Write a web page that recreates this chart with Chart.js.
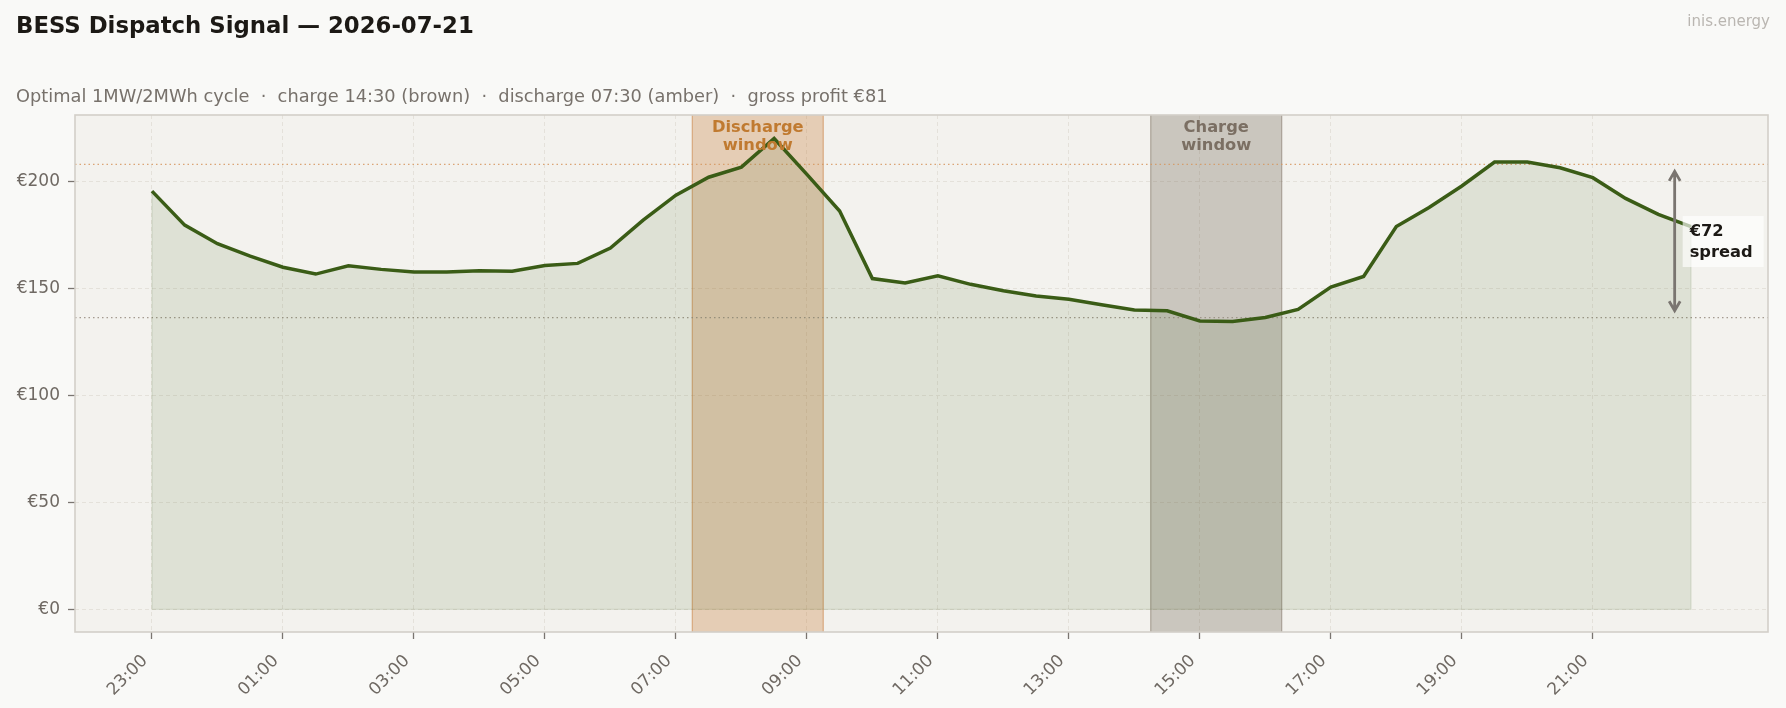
<!DOCTYPE html>
<html>
<head>
<meta charset="utf-8">
<script src="https://cdn.jsdelivr.net/npm/chart.js@4.4.0/dist/chart.umd.min.js"></script>
<style>
  html, body { margin: 0; padding: 0; background: #f9f9f7; }
  #wrap { position: relative; width: 1786px; height: 708px; font-family: "DejaVu Sans", sans-serif; }
  #wrap div { position: absolute; line-height: 1; white-space: pre; }
  #title { left: 16px; top: 13.7px; font-size: 22.8px; font-weight: bold; color: #1c1915; }
  #sub { left: 16px; top: 86.6px; font-size: 17.8px; color: #77716b; }
  #brand { right: 16px; top: 14px; font-size: 15px; color: #bab6b1; }
  canvas { position: absolute; left: 0; top: 0; }
</style>
</head>
<body>
<div id="wrap">
  <canvas id="chart" width="1786" height="708"></canvas>
  <div id="title">BESS Dispatch Signal — 2026-07-21</div>
  <div id="sub">Optimal 1MW/2MWh cycle  ·  charge 14:30 (brown)  ·  discharge 07:30 (amber)  ·  gross profit €81</div>
  <div id="brand">inis.energy</div>
</div>
<script>
// half-hourly day-ahead prices, 23:00 -> 22:30
const times = [
  '23:00','23:30','00:00','00:30','01:00','01:30','02:00','02:30',
  '03:00','03:30','04:00','04:30','05:00','05:30','06:00','06:30',
  '07:00','07:30','08:00','08:30','09:00','09:30','10:00','10:30',
  '11:00','11:30','12:00','12:30','13:00','13:30','14:00','14:30',
  '15:00','15:30','16:00','16:30','17:00','17:30','18:00','18:30',
  '19:00','19:30','20:00','20:30','21:00','21:30','22:00','22:30'
];
const prices = [
  195.6, 179.7, 171.0, 165.2, 160.0, 156.8, 160.7, 159.0,
  157.8, 157.8, 158.3, 158.1, 160.8, 161.8, 169.0, 182.0,
  193.7, 202.1, 206.8, 220.2, 203.4, 186.3, 154.7, 152.6,
  156.0, 152.0, 149.0, 146.5, 145.0, 142.5, 140.0, 139.6,
  134.9, 134.6, 136.5, 140.3, 150.7, 155.7, 179.0, 187.9,
  198.0, 209.2, 209.2, 206.5, 201.9, 192.2, 184.7, 179.0
];
const dischargeSlots = ['07:30', '08:00', '08:30', '09:00'];
const chargeSlots = ['14:30', '15:00', '15:30', '16:00'];
const xTickLabels = ['23:00','01:00','03:00','05:00','07:00','09:00','11:00','13:00','15:00','17:00','19:00','21:00'];
const yTickValues = [0, 50, 100, 150, 200];

const LINE = '#3a5c16';
const TXT = '#6f6963';
const FONT = '"DejaVu Sans", sans-serif';

// hours since 23:00
function toOffset(t) {
  const [h, m] = t.split(':').map(Number);
  return ((h - 23 + 24) % 24) + m / 60;
}
function toTime(v) {
  const h = (Math.round(v) + 23) % 24;
  return String(h).padStart(2, '0') + ':00';
}
function avgOf(slots) {
  const vals = slots.map(s => prices[times.indexOf(s)]);
  return vals.reduce((a, b) => a + b, 0) / vals.length;
}

const points = times.map((t, i) => ({ x: toOffset(t), y: prices[i] }));
const dAvg = avgOf(dischargeSlots);
const cAvg = avgOf(chargeSlots);
const spreadText = ['€' + Math.round(dAvg - cAvg), 'spread'];

function windowRange(slots) {
  const offs = slots.map(toOffset);
  return [Math.min(...offs) - 0.25, Math.max(...offs) + 0.25];
}

const decor = {
  id: 'decor',
  beforeDraw(chart) {
    const { ctx, chartArea: a } = chart;
    ctx.save();
    ctx.fillStyle = '#f3f2ee';
    ctx.fillRect(a.left, a.top, a.width, a.height);
    ctx.restore();
  },
  beforeDatasetsDraw(chart) {
    const { ctx, chartArea: a, scales: { x, y } } = chart;
    ctx.save();
    const bands = [
      [windowRange(dischargeSlots), 'rgba(198,122,56,0.31)', 'rgba(200,120,50,0.5)'],
      [windowRange(chargeSlots), 'rgba(110,95,80,0.30)', 'rgba(110,95,80,0.45)']
    ];
    bands.forEach(([r, fill, edge]) => {
      const x0 = x.getPixelForValue(r[0]), x1 = x.getPixelForValue(r[1]);
      ctx.fillStyle = fill;
      ctx.fillRect(x0, a.top, x1 - x0, a.height);
      ctx.strokeStyle = edge;
      ctx.lineWidth = 1.2;
      ctx.beginPath();
      ctx.moveTo(x0, a.top); ctx.lineTo(x0, a.bottom);
      ctx.moveTo(x1, a.top); ctx.lineTo(x1, a.bottom);
      ctx.stroke();
    });
    // average price levels
    ctx.setLineDash([1.5, 3]);
    ctx.lineWidth = 1.2;
    [[dAvg, 'rgba(214,150,95,0.85)'], [cAvg, 'rgba(150,140,128,0.85)']].forEach(([v, c]) => {
      const py = y.getPixelForValue(v);
      ctx.strokeStyle = c;
      ctx.beginPath();
      ctx.moveTo(a.left, py); ctx.lineTo(a.right, py);
      ctx.stroke();
    });
    ctx.setLineDash([]);
    // faint edge of the filled area
    const p0 = points[0], pn = points[points.length - 1];
    ctx.strokeStyle = 'rgba(58,92,22,0.12)';
    ctx.lineWidth = 1.2;
    ctx.beginPath();
    ctx.moveTo(x.getPixelForValue(p0.x), y.getPixelForValue(p0.y));
    ctx.lineTo(x.getPixelForValue(p0.x), y.getPixelForValue(0));
    ctx.lineTo(x.getPixelForValue(pn.x), y.getPixelForValue(0));
    ctx.lineTo(x.getPixelForValue(pn.x), y.getPixelForValue(pn.y));
    ctx.stroke();
    ctx.restore();
  },
  afterDatasetsDraw(chart) {
    const { ctx, chartArea: a, scales: { x, y } } = chart;
    ctx.save();
    // window labels
    ctx.font = 'bold 16.3px ' + FONT;
    ctx.textAlign = 'center';
    ctx.textBaseline = 'alphabetic';
    [[dischargeSlots, '#c07a30', ['Discharge', 'window']],
     [chargeSlots, '#7b6f63', ['Charge', 'window']]].forEach(([slots, c, lines]) => {
      const r = windowRange(slots);
      const cx = x.getPixelForValue((r[0] + r[1]) / 2);
      ctx.fillStyle = c;
      ctx.fillText(lines[0], cx, a.top + 16.7);
      ctx.fillText(lines[1], cx, a.top + 35);
    });

    // spread arrow
    const ax = x.getPixelForValue(23.25);
    const yTop = y.getPixelForValue(dAvg) + 7;
    const yBot = y.getPixelForValue(cAvg) - 7;
    ctx.strokeStyle = '#7a7570';
    ctx.lineWidth = 2.8;
    ctx.lineCap = 'butt';
    ctx.beginPath();
    ctx.moveTo(ax, yTop); ctx.lineTo(ax, yBot);
    ctx.moveTo(ax - 5.5, yTop + 9.5); ctx.lineTo(ax, yTop); ctx.lineTo(ax + 5.5, yTop + 9.5);
    ctx.moveTo(ax - 5.5, yBot - 9.5); ctx.lineTo(ax, yBot); ctx.lineTo(ax + 5.5, yBot - 9.5);
    ctx.stroke();

    const my = y.getPixelForValue((dAvg + cAvg) / 2);
    ctx.fillStyle = 'rgba(255,255,255,0.65)';
    ctx.fillRect(ax + 8, my - 25, 81, 51);
    ctx.fillStyle = '#1c1915';
    ctx.textAlign = 'left';
    ctx.fillText(spreadText[0], ax + 15, my - 5);
    ctx.fillText(spreadText[1], ax + 15, my + 15.5);

    // frame
    ctx.strokeStyle = '#d3cfc8';
    ctx.lineWidth = 1.6;
    ctx.strokeRect(a.left, a.top, a.width, a.height);
    ctx.restore();
  }
};

new Chart(document.getElementById('chart'), {
  type: 'line',
  data: {
    datasets: [{
      data: points,
      borderColor: LINE,
      borderWidth: 3.5,
      backgroundColor: 'rgba(58,92,22,0.11)',
      fill: 'origin',
      pointRadius: 0,
      tension: 0
    }]
  },
  options: {
    responsive: false,
    devicePixelRatio: 1,
    animation: false,
    layout: { padding: { top: 115, right: 18, left: 0, bottom: 0 } },
    plugins: { legend: { display: false }, tooltip: { enabled: false } },
    scales: {
      x: {
        type: 'linear',
        min: -1.175,
        max: 24.675,
        afterFit: s => { s.height = 76; },
        afterBuildTicks: s => { s.ticks = xTickLabels.map(toOffset).map(v => ({ value: v })); },
        grid: { color: '#e4e1da', lineWidth: 1, tickLength: 7, tickColor: '#7a7570', tickWidth: 1.3 },
        border: { display: false, dash: [4, 3] },
        ticks: {
          autoSkip: false, maxRotation: 45, minRotation: 45, padding: 12, labelOffset: -7,
          color: TXT, font: { family: FONT, size: 17 },
          callback: v => toTime(v)
        }
      },
      y: {
        min: -10.6,
        max: 231.2,
        afterFit: s => { s.width = 75; },
        afterBuildTicks: s => { s.ticks = yTickValues.map(v => ({ value: v })); },
        grid: { color: '#e4e1da', lineWidth: 1, tickLength: 7, tickColor: '#7a7570', tickWidth: 1.3 },
        border: { display: false, dash: [4, 3] },
        ticks: {
          padding: 8, color: TXT, font: { family: FONT, size: 17 },
          callback: v => '€' + v
        }
      }
    }
  },
  plugins: [decor]
});
</script>
</body>
</html>
